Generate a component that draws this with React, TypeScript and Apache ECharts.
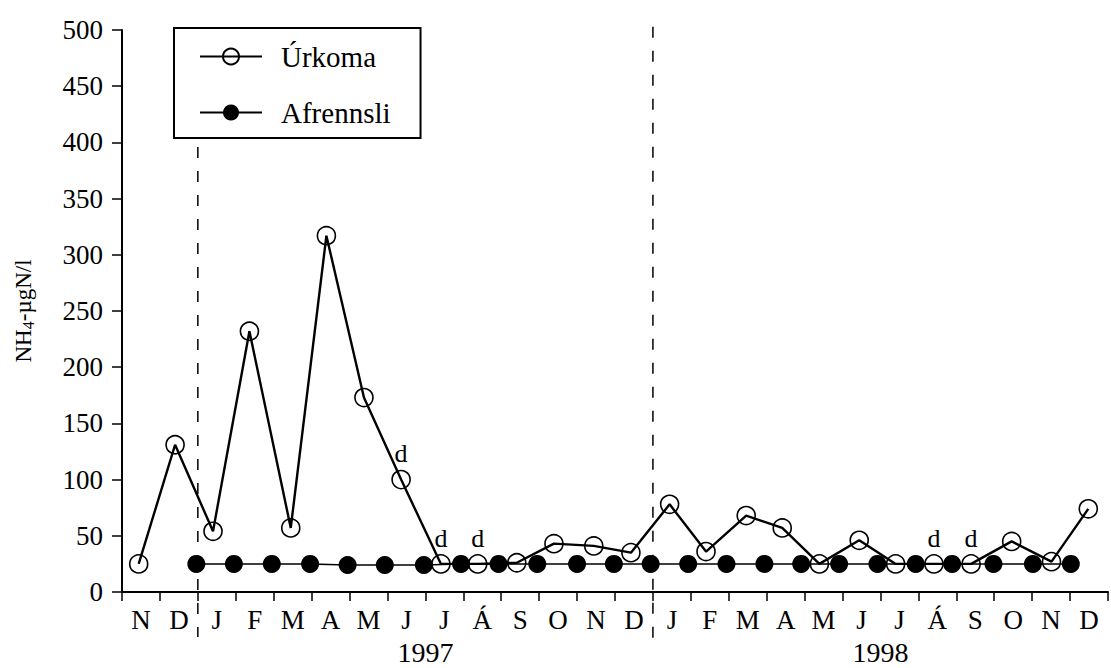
import React, { useEffect, useRef } from "react";
import * as echarts from "echarts";

// Month band labels along the time axis (Nov 1996 – Dec 1998)
const monthLabels = [
  "N", "D",
  "J", "F", "M", "A", "M", "J", "J", "Á", "S", "O", "N", "D",
  "J", "F", "M", "A", "M", "J", "J", "Á", "S", "O", "N", "D",
];
// Year captions placed at the middle of each year (month index)
const yearPositions = [8, 20];
const yearNames = ["1997", "1998"];

// Sampling time in months since start of Nov 1996
const urkomaX = [
  0.44, 1.4, 2.4, 3.36, 4.45, 5.39, 6.38, 7.36, 8.41, 9.38, 10.41, 11.39, 12.44,
  13.42, 14.44, 15.4, 16.46, 17.41, 18.39, 19.44, 20.4, 21.41, 22.39, 23.46,
  24.51, 25.48,
];
const urkomaY = [
  25, 131, 54, 232, 57, 317, 173, 100, 25, 25, 26, 43, 41, 35, 78, 36, 68, 57,
  25, 46, 25, 25, 25, 45, 27, 74,
];
// Samples flagged "d" (detection limit)
const urkomaFlagged = [7, 8, 9, 21, 22];

const afrennsliX = [
  1.96, 2.95, 3.95, 4.96, 5.95, 6.93, 7.96, 8.94, 9.93, 10.95, 12.0, 12.97,
  13.94, 14.93, 15.94, 16.94, 17.91, 18.91, 19.92, 20.93, 21.89, 22.98, 24.02,
  25.02,
];
const afrennsliY = [
  25, 25, 25, 25, 24, 24, 24, 25, 25, 25, 25, 25, 25, 25, 25, 25, 25, 25, 25,
  25, 25, 25, 25, 25,
];

// Year separators: [month, top value, bottom value]
const separators = [
  [2, 396, -40],
  [14, 503, -42],
];

const FONT = "Liberation Serif";

export default function App() {
  const ref = useRef<HTMLDivElement>(null);

  useEffect(() => {
    if (!ref.current) return;
    const chart = echarts.init(ref.current, undefined, { renderer: "svg" });

    const urkomaData = urkomaX.map((x, i) => {
      const item: any = { value: [x, urkomaY[i]] };
      if (urkomaFlagged.includes(i)) {
        item.label = {
          show: true,
          formatter: "d",
          position: "top",
          distance: 3,
          fontSize: 26,
          fontFamily: FONT,
          color: "#000",
        };
      }
      return item;
    });
    const afrennsliData = afrennsliX.map((x, i) => [x, afrennsliY[i]]);

    chart.setOption({
      animation: false,
      backgroundColor: "#fff",
      grid: { left: 122, top: 30, width: 991, height: 562 },
      legend: {
        data: ["Úrkoma", "Afrennsli"],
        orient: "vertical",
        left: 174,
        top: 28,
        itemWidth: 62,
        itemHeight: 20,
        itemGap: 27,
        padding: [14, 30, 11, 25],
        borderColor: "#000",
        borderWidth: 2,
        textStyle: {
          fontSize: 29,
          fontFamily: FONT,
          color: "#000",
          padding: [0, 0, 0, 14],
        },
      },
      xAxis: [
        {
          type: "value",
          min: 0,
          max: 26,
          interval: 1,
          position: "bottom",
          axisLine: { show: true, lineStyle: { color: "#000", width: 2 } },
          axisTick: { show: true, length: 9, lineStyle: { color: "#000", width: 1.5 } },
          axisLabel: { show: false },
          splitLine: { show: false },
        },
        {
          type: "category",
          data: monthLabels,
          position: "bottom",
          boundaryGap: true,
          axisLine: { show: false },
          axisTick: { show: false },
          axisLabel: {
            interval: 0,
            margin: 14,
            fontSize: 27,
            fontFamily: FONT,
            color: "#000",
          },
          splitLine: { show: false },
        },
        {
          type: "value",
          min: 0,
          max: 26,
          interval: 1,
          position: "bottom",
          axisLine: { show: false },
          axisTick: { show: false },
          axisLabel: {
            margin: 46,
            fontSize: 28,
            fontFamily: FONT,
            color: "#000",
            formatter: (v: number) => {
              const k = yearPositions.indexOf(v);
              return k >= 0 ? yearNames[k] : "";
            },
          },
          splitLine: { show: false },
        },
      ],
      yAxis: {
        type: "value",
        min: 0,
        max: 500,
        interval: 50,
        name: "NH{sub|4}-µgN/l",
        nameLocation: "middle",
        nameGap: 86,
        nameTextStyle: {
          fontSize: 23,
          fontFamily: FONT,
          color: "#000",
          rich: {
            sub: {
              fontSize: 16,
              fontFamily: FONT,
              color: "#000",
              padding: [9, 0, 0, 0],
            },
          },
        },
        axisLine: { show: true, lineStyle: { color: "#000", width: 2 } },
        axisTick: { show: true, length: 10, lineStyle: { color: "#000", width: 1.5 } },
        axisLabel: { margin: 19, fontSize: 27, fontFamily: FONT, color: "#000" },
        splitLine: { show: false },
      },
      series: [
        {
          type: "custom",
          xAxisIndex: 0,
          yAxisIndex: 0,
          z: 1,
          silent: true,
          encode: { x: 0, y: 1 },
          data: separators,
          renderItem: (params: any, api: any) => {
            const top = api.coord([api.value(0), api.value(1)]);
            const bot = api.coord([api.value(0), api.value(2)]);
            return {
              type: "line",
              shape: { x1: top[0], y1: top[1], x2: bot[0], y2: bot[1] },
              style: { stroke: "#000", lineWidth: 1.5, lineDash: [11, 13] },
            };
          },
        },
        {
          name: "Afrennsli",
          type: "line",
          xAxisIndex: 0,
          yAxisIndex: 0,
          z: 3,
          data: afrennsliData,
          symbol: "circle",
          symbolSize: 18,
          showAllSymbol: true,
          lineStyle: { color: "#000", width: 1.5 },
          itemStyle: { color: "#000" },
        },
        {
          name: "Úrkoma",
          type: "line",
          xAxisIndex: 0,
          yAxisIndex: 0,
          z: 4,
          data: urkomaData,
          symbol: "circle",
          symbolSize: 18,
          showAllSymbol: true,
          lineStyle: { color: "#000", width: 2.4 },
          itemStyle: { color: "rgba(255,255,255,0)", borderColor: "#000", borderWidth: 1.6 },
        },
      ],
    });

    return () => chart.dispose();
  }, []);

  return (
    <div
      ref={ref}
      style={{ position: "absolute", left: 0, top: 0, width: 1111, height: 668, background: "#fff" }}
    />
  );
}
